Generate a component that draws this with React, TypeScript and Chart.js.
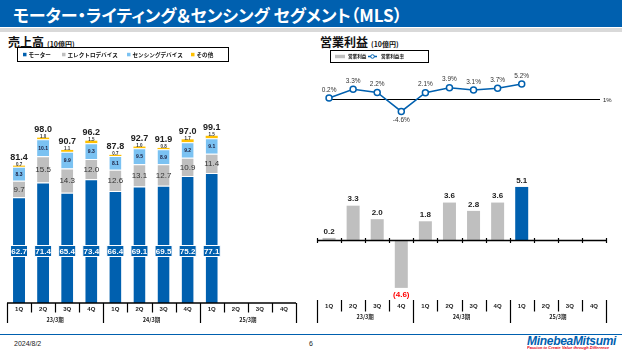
import React, { useEffect, useRef } from "react";
import { Chart, registerables } from "chart.js";

Chart.register(...registerables);

// ---------- data ----------
const QUARTERS = ["1Q", "2Q", "3Q", "4Q", "1Q", "2Q", "3Q", "4Q", "1Q", "2Q", "3Q", "4Q"];
const FISCAL_YEARS = ["23/3期", "24/3期", "25/3期"];

const MOTOR = [62.7, 71.4, 65.4, 73.4, 66.4, 69.1, 69.5, 75.2, 77.1, null, null, null];
const ELECTRO = [9.7, 15.5, 14.3, 12.0, 12.6, 13.1, 12.7, 10.9, 11.4, null, null, null];
const SENSING = [8.3, 10.1, 9.9, 9.3, 8.1, 9.5, 8.9, 9.2, 9.1, null, null, null];
const OTHER = [0.7, 1.0, 1.1, 1.5, 0.7, 1.0, 0.8, 1.7, 1.5, null, null, null];
const SALES_TOTAL = [81.4, 98.0, 90.7, 96.2, 87.8, 92.7, 91.9, 97.0, 99.1, null, null, null];

const OP_PROFIT = [0.2, 3.3, 2.0, -4.6, 1.8, 3.6, 2.8, 3.6, 5.1, null, null, null];
const OP_MARGIN = [0.2, 3.3, 2.2, -4.6, 2.1, 3.9, 3.1, 3.7, 5.2, null, null, null];
const MARGIN_REF_VALUE = 0;
const MARGIN_REF_LABEL = "1%";
const CURRENT_INDEX = 8;

const SALES_LEGEND = ["モーター", "エレクトロデバイス", "センシングデバイス", "その他"];
const PROFIT_LEGEND = ["営業利益", "営業利益率"];

// ---------- styles ----------
const BLUE = "#0060AF";
const GRAY = "#BFBFBF";
const LIGHT_BLUE = "#7BC2F2";
const YELLOW = "#FFC000";
const NUM_FONT = '"Liberation Sans", Arial, sans-serif';
const JP_FONT = '"Noto Sans CJK JP", "Noto Sans", sans-serif';

function txt(ctx: CanvasRenderingContext2D, s: string, x: number, y: number, font: string, color: string, align: CanvasTextAlign = "center") {
  ctx.font = font;
  ctx.fillStyle = color;
  ctx.textAlign = align;
  ctx.textBaseline = "middle";
  ctx.fillText(s, x, y);
}

function edgesOf(scale: any, n: number): number[] {
  const half = (scale.getPixelForValue(1) - scale.getPixelForValue(0)) / 2;
  const out: number[] = [];
  for (let i = 0; i < n; i++) out.push(scale.getPixelForValue(i) - half);
  out.push(scale.getPixelForValue(n - 1) + half);
  return out;
}

function line(ctx: CanvasRenderingContext2D, x1: number, y1: number, x2: number, y2: number, w: number, c: string) {
  ctx.beginPath();
  ctx.moveTo(x1, y1);
  ctx.lineTo(x2, y2);
  ctx.lineWidth = w;
  ctx.strokeStyle = c;
  ctx.stroke();
}

const salesPlugin = {
  id: "salesDecor",
  afterDraw(chart: any) {
    const ctx: CanvasRenderingContext2D = chart.ctx;
    const xs = chart.scales.x;
    const ys = chart.scales.y;
    const area = chart.chartArea;
    ctx.save();
    for (let i = 0; i < QUARTERS.length; i++) {
      const m = MOTOR[i];
      if (m == null) continue;
      const cx = xs.getPixelForValue(i);
      const e = ELECTRO[i] as number;
      const s = SENSING[i] as number;
      const t = SALES_TOTAL[i] as number;
      // motor box label
      const by = area.bottom - 52;
      ctx.fillStyle = BLUE;
      ctx.fillRect(cx - 8.5, by - 5.5, 17, 11);
      ctx.strokeStyle = "#fff";
      ctx.lineWidth = 1;
      ctx.strokeRect(cx - 8.5, by - 5.5, 17, 11);
      txt(ctx, m.toFixed(1), cx, by + 0.5, `bold 8px ${NUM_FONT}`, "#fff");
      // electro
      txt(ctx, e.toFixed(1), cx, ys.getPixelForValue(m + e / 2) + 0.5, `8px ${NUM_FONT}`, "#333");
      // sensing
      txt(ctx, s.toFixed(1), cx, ys.getPixelForValue(m + e + s / 2) + 0.5, `bold 5px ${NUM_FONT}`, "#1a1a3a");
      // other
      txt(ctx, (OTHER[i] as number).toFixed(1), cx, ys.getPixelForValue(t) - 1, `bold 4.5px ${NUM_FONT}`, "#333");
      // total
      txt(ctx, t.toFixed(1), cx, ys.getPixelForValue(t) - 8, `bold 9px ${NUM_FONT}`, "#222");
    }
    // axis
    const b = area.bottom;
    line(ctx, area.left, b, area.right, b, 1.5, "#000");
    const edges = edgesOf(xs, QUARTERS.length);
    edges.forEach((ex, i) => {
      const major = i % 4 === 0;
      line(ctx, Math.round(ex) + 0.5, b, Math.round(ex) + 0.5, b + (major ? 20 : 9.5), 1.2, "#000");
    });
    QUARTERS.forEach((q, i) => txt(ctx, q, xs.getPixelForValue(i), b + 6, `bold 6px ${NUM_FONT}`, "#222"));
    FISCAL_YEARS.forEach((fy, g) => {
      const cx = (edges[g * 4] + edges[g * 4 + 4]) / 2;
      txt(ctx, fy, cx, b + 17, `bold 5.5px ${JP_FONT}`, "#222");
    });
    // legend
    ctx.lineWidth = 1;
    ctx.strokeStyle = "#000";
    ctx.strokeRect(17.5, 17.5, 211, 14);
    const ly = 24.5;
    const sq = [[23, BLUE], [62, GRAY], [127, LIGHT_BLUE], [191, YELLOW]] as [number, string][];
    sq.forEach(([x, c], k) => {
      ctx.fillStyle = c;
      ctx.fillRect(x, ly - 1.7, 3.5, 3.5);
      txt(ctx, SALES_LEGEND[k], x + 5.5, ly, `bold 5.6px ${JP_FONT}`, "#111", "left");
    });
    ctx.restore();
  },
};

const profitPlugin = {
  id: "profitDecor",
  beforeDatasetsDraw(chart: any) {
    const ctx: CanvasRenderingContext2D = chart.ctx;
    const xs = chart.scales.x;
    const y2 = chart.scales.y2;
    const area = chart.chartArea;
    ctx.save();
    const ry = Math.round(y2.getPixelForValue(MARGIN_REF_VALUE)) + 0.5;
    line(ctx, xs.getPixelForValue(0), ry, area.right - 6, ry, 1.2, "#000");
    txt(ctx, MARGIN_REF_LABEL, area.right - 3, ry + 0.5, `6px ${NUM_FONT}`, "#222", "left");
    ctx.restore();
  },
  afterDraw(chart: any) {
    const ctx: CanvasRenderingContext2D = chart.ctx;
    const xs = chart.scales.x;
    const ys = chart.scales.y;
    const y2 = chart.scales.y2;
    const area = chart.chartArea;
    ctx.save();
    // zero axis
    const y0 = Math.round(ys.getPixelForValue(0)) + 0.5;
    line(ctx, area.left, y0, area.right, y0, 1.5, "#000");
    const edges = edgesOf(xs, QUARTERS.length);
    edges.forEach((ex) => line(ctx, Math.round(ex) + 0.5, y0 - 2.5, Math.round(ex) + 0.5, y0 + 2.5, 1.2, "#000"));
    // bar labels
    OP_PROFIT.forEach((v, i) => {
      if (v == null) return;
      const cx = xs.getPixelForValue(i);
      if (v >= 0) {
        txt(ctx, v.toFixed(1), cx, ys.getPixelForValue(v) - 6.5, `bold 8px ${NUM_FONT}`, "#222");
      } else {
        txt(ctx, `(${Math.abs(v).toFixed(1)})`, cx, ys.getPixelForValue(v) + 7, `bold 8px ${NUM_FONT}`, "#FF0000");
      }
    });
    // margin labels
    OP_MARGIN.forEach((v, i) => {
      if (v == null) return;
      const cx = xs.getPixelForValue(i);
      const py = y2.getPixelForValue(v);
      txt(ctx, `${v.toFixed(1)}%`, cx, v >= 0 ? py - 8 : py + 9, `6.5px ${NUM_FONT}`, "#333");
    });
    // bottom category axis
    const b = area.bottom;
    edges.forEach((ex, i) => {
      const major = i % 4 === 0;
      line(ctx, Math.round(ex) + 0.5, b + 4, Math.round(ex) + 0.5, b + (major ? 27 : 15.5), 1.2, "#000");
    });
    QUARTERS.forEach((q, i) => txt(ctx, q, xs.getPixelForValue(i), b + 10.7, `bold 6px ${NUM_FONT}`, "#222"));
    FISCAL_YEARS.forEach((fy, g) => {
      const cx = (edges[g * 4] + edges[g * 4 + 4]) / 2;
      txt(ctx, fy, cx, b + 20.7, `bold 5.5px ${JP_FONT}`, "#222");
    });
    // legend
    ctx.lineWidth = 1;
    ctx.strokeStyle = "#000";
    ctx.strokeRect(20.5, 20.5, 98, 12);
    const ly = 26.5;
    ctx.fillStyle = GRAY;
    ctx.fillRect(25, ly - 1.7, 10, 3.4);
    txt(ctx, PROFIT_LEGEND[0], 38, ly, `bold 4.6px ${JP_FONT}`, "#111", "left");
    line(ctx, 58, ly, 67, ly, 1.5, BLUE);
    ctx.beginPath();
    ctx.arc(62.5, ly, 1.8, 0, Math.PI * 2);
    ctx.fillStyle = "#fff";
    ctx.fill();
    ctx.lineWidth = 1;
    ctx.strokeStyle = BLUE;
    ctx.stroke();
    txt(ctx, PROFIT_LEGEND[1], 71, ly, `bold 4.6px ${JP_FONT}`, "#111", "left");
    ctx.restore();
  },
};

function SalesChart() {
  const ref = useRef<HTMLCanvasElement>(null);
  useEffect(() => {
    if (!ref.current) return;
    const segBorder = { top: 1, bottom: 0, left: 0, right: 0 };
    const chart = new Chart(ref.current, {
      type: "bar",
      data: {
        labels: QUARTERS,
        datasets: [
          { label: SALES_LEGEND[0], data: MOTOR as any, backgroundColor: BLUE, borderColor: "#fff", borderWidth: segBorder as any, borderSkipped: false as any },
          { label: SALES_LEGEND[1], data: ELECTRO as any, backgroundColor: GRAY, borderColor: "#fff", borderWidth: segBorder as any, borderSkipped: false as any },
          { label: SALES_LEGEND[2], data: SENSING as any, backgroundColor: LIGHT_BLUE, borderColor: "#fff", borderWidth: segBorder as any, borderSkipped: false as any },
          { label: SALES_LEGEND[3], data: OTHER as any, backgroundColor: YELLOW, borderWidth: 0 },
        ],
      },
      options: {
        responsive: false,
        animation: false,
        layout: { padding: { left: 7, right: 14, top: 30, bottom: 27 } },
        datasets: { bar: { categoryPercentage: 1, barPercentage: 0.5 } } as any,
        plugins: { legend: { display: false }, tooltip: { enabled: false } },
        scales: {
          x: { display: false, stacked: true },
          y: { display: false, stacked: true, min: 0, max: 144 },
        },
      },
      plugins: [salesPlugin],
    });
    return () => chart.destroy();
  }, []);
  return <canvas ref={ref} width={310} height={300} style={{ position: "absolute", left: 0, top: 30, width: 310, height: 300 }} />;
}

function ProfitChart() {
  const ref = useRef<HTMLCanvasElement>(null);
  useEffect(() => {
    if (!ref.current) return;
    const chart = new Chart(ref.current, {
      type: "bar",
      data: {
        labels: QUARTERS,
        datasets: [
          {
            type: "line",
            label: PROFIT_LEGEND[1],
            data: OP_MARGIN as any,
            yAxisID: "y2",
            borderColor: BLUE,
            borderWidth: 1.5,
            pointRadius: 3,
            pointBackgroundColor: "#fff",
            pointBorderColor: BLUE,
            pointBorderWidth: 1.5,
            order: 0,
          } as any,
          {
            type: "bar",
            label: PROFIT_LEGEND[0],
            data: OP_PROFIT as any,
            yAxisID: "y",
            backgroundColor: OP_PROFIT.map((_, i) => (i === CURRENT_INDEX ? BLUE : GRAY)),
            categoryPercentage: 1,
            barPercentage: 0.54,
            order: 1,
          } as any,
        ],
      },
      options: {
        responsive: false,
        animation: false,
        layout: { padding: { left: 7, right: 16, top: 30, bottom: 34 } },
        plugins: { legend: { display: false }, tooltip: { enabled: false } },
        scales: {
          x: { display: false },
          y: { display: false, min: -5.38, max: 17.3 },
          y2: { display: false, min: -70.5, max: 13.77 },
        },
      },
      plugins: [profitPlugin],
    });
    return () => chart.destroy();
  }, []);
  return <canvas ref={ref} width={312} height={300} style={{ position: "absolute", left: 310, top: 30, width: 312, height: 300 }} />;
}

export default function App() {
  const abs = (s: React.CSSProperties): React.CSSProperties => ({ position: "absolute", whiteSpace: "nowrap", ...s });
  return (
    <div style={{ position: "fixed", left: 0, top: 0, width: 622, height: 350, background: "#fff", overflow: "hidden", fontFamily: JP_FONT }}>
      <div style={abs({ left: 0, top: 0, width: 622, height: 27, background: BLUE })} />
      <div style={abs({ left: 0, top: 28, width: 622, height: 4, background: "#D9D9D9" })} />
      <div style={abs({ left: 13, top: 1, height: 27, lineHeight: "27px", color: "#fff", fontSize: 17, fontWeight: 700, fontFeatureSettings: "'palt'" })}>
        モーター・ライティング＆センシング セグメント（MLS）
      </div>
      <div style={abs({ left: 8, top: 34, lineHeight: "15px", fontSize: 12, fontWeight: 700, color: "#111" })}>
        売上高<span style={{ fontSize: 7, marginLeft: 3 }}>(10億円)</span>
      </div>
      <div style={abs({ left: 320, top: 34, lineHeight: "15px", fontSize: 12, fontWeight: 700, color: "#111" })}>
        営業利益<span style={{ fontSize: 7, marginLeft: 3 }}>(10億円)</span>
      </div>
      <SalesChart />
      <ProfitChart />
      <div style={abs({ left: 0, top: 333.5, width: 622, height: 1.5, background: BLUE })} />
      <div style={abs({ left: 14, top: 339, lineHeight: "10px", fontSize: 7, fontFamily: NUM_FONT, color: "#222" })}>2024/8/2</div>
      <div style={abs({ left: 309, top: 339, lineHeight: "10px", fontSize: 7, fontFamily: NUM_FONT, color: "#222" })}>6</div>
      <div style={abs({ left: 527, top: 335, lineHeight: "12px", fontSize: 12, fontFamily: NUM_FONT, fontWeight: 700, fontStyle: "italic", color: BLUE, letterSpacing: -0.3 })}>
        MinebeaMitsumi
      </div>
      <div style={abs({ left: 527, top: 346, lineHeight: "8px", fontSize: 8, fontFamily: NUM_FONT, fontWeight: 700, fontStyle: "italic", color: "#E60012", transform: "scale(0.5)", transformOrigin: "left top" })}>
        Passion to Create Value through Difference
      </div>
    </div>
  );
}
